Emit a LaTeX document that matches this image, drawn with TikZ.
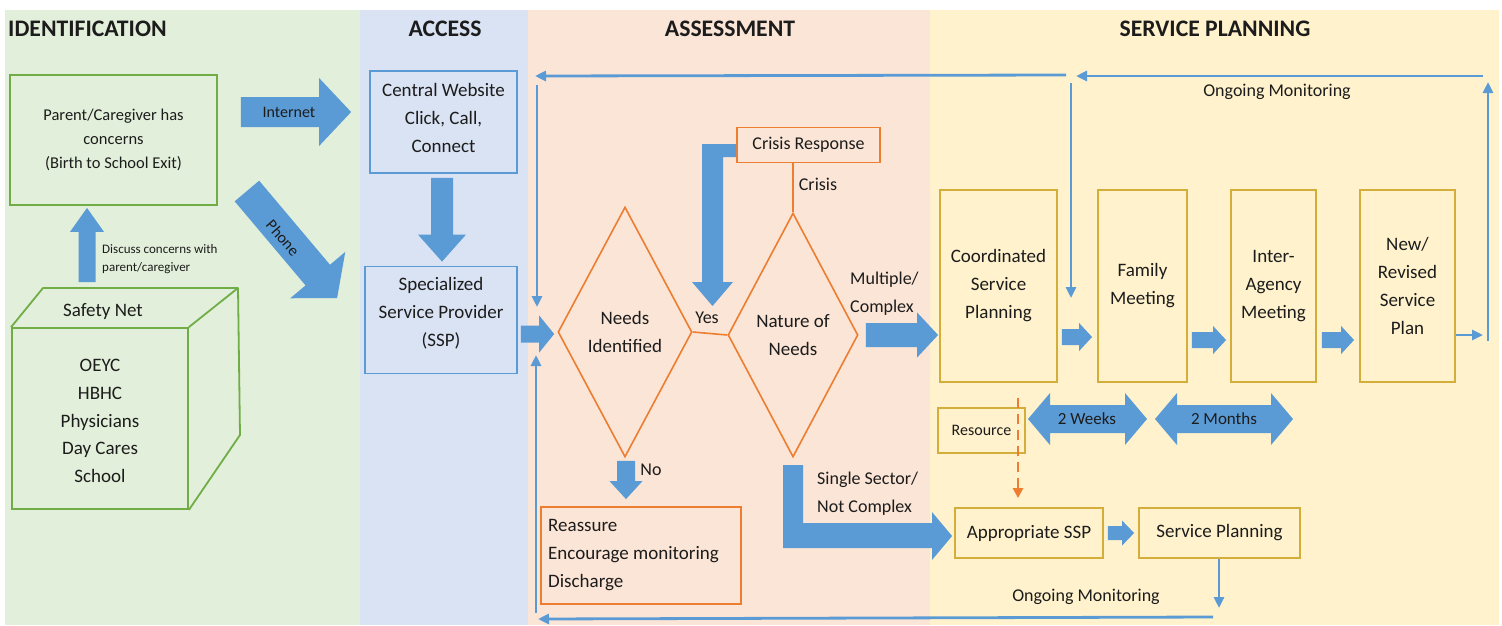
\documentclass[tikz,border=0pt]{standalone}
\usepackage{fontspec}
\setmainfont{Carlito}
\usetikzlibrary{shapes.geometric,arrows.meta,calc}
\definecolor{bgG}{HTML}{E2EFDA}
\definecolor{bgB}{HTML}{DAE3F3}
\definecolor{bgO}{HTML}{FBE5D6}
\definecolor{bgY}{HTML}{FFF2CC}
\definecolor{ab}{HTML}{5B9BD5}
\definecolor{gB}{HTML}{70AD47}
\definecolor{oB}{HTML}{ED7D31}
\definecolor{yB}{HTML}{D4AE3A}
\definecolor{bB}{HTML}{5B9BD5}
\definecolor{tx}{HTML}{1C1C1C}

\newcommand\blockarrow[5]{% from, to, shaft half, head half, head length
  \path (#1) coordinate (bas) (#2) coordinate (bae);
  \path ($(bae)!#5!(bas)$) coordinate (bab);
  \fill[ab] ($(bas)!#3!90:(bae)$) -- ($(bab)!#3!90:(bae)$) -- ($(bab)!#4!90:(bae)$) -- (bae)
    -- ($(bab)!#4!-90:(bae)$) -- ($(bab)!#3!-90:(bae)$) -- ($(bas)!#3!-90:(bae)$) -- cycle;
}
\newcommand\dblarrow[5]{% from, to, shaft half, head half, head length
  \path (#1) coordinate (bas) (#2) coordinate (bae);
  \path ($(bae)!#5!(bas)$) coordinate (bab) ($(bas)!#5!(bae)$) coordinate (baf);
  \fill[ab] (bas) -- ($(baf)!#4!90:(bae)$) -- ($(baf)!#3!90:(bae)$) -- ($(bab)!#3!90:(bae)$)
    -- ($(bab)!#4!90:(bae)$) -- (bae) -- ($(bab)!#4!-90:(bae)$) -- ($(bab)!#3!-90:(bae)$)
    -- ($(baf)!#3!-90:(bae)$) -- ($(baf)!#4!-90:(bae)$) -- cycle;
}

\begin{document}
\begin{tikzpicture}[x=1pt,y=-1pt,
  txt/.style={text=tx,align=center,inner sep=0pt,font=\fontsize{19}{28}\selectfont},
  lbl/.style={text=tx,align=left,inner sep=0pt,font=\fontsize{18}{28}\selectfont},
  head/.style={text=tx,inner sep=0pt,font=\bfseries\fontsize{23.7}{28}\selectfont},
  gbox/.style={draw=gB,line width=1.8pt,inner sep=0pt},
  bbox/.style={draw=bB,line width=1.8pt,inner sep=0pt},
  obox/.style={draw=oB,line width=1.8pt,inner sep=0pt},
  ybox/.style={draw=yB,line width=1.8pt,inner sep=0pt},
  odiam/.style={diamond,draw=oB,line width=1.6pt,inner sep=0pt,aspect=0.5},
  mon/.style={draw=ab,line width=2.8pt,-{Triangle[length=11pt,width=10pt]}},
]
\useasboundingbox (0,0) rectangle (1502,625);
\fill[white] (0,0) rectangle (1502,625);
% backgrounds
\fill[bgG] (5,10) rectangle (360,625);
\fill[bgB] (360,10) rectangle (528,625);
\fill[bgO] (528,10) rectangle (930,625);
\fill[bgY] (930,10) rectangle (1499,625);

% headers
\node[head,anchor=west] (hId) at (8,29) {IDENTIFICATION};
\node[head] (hAc) at (445,29) {ACCESS};
\node[head] (hAs) at (730,29) {ASSESSMENT};
\node[head] (hSp) at (1215,29) {SERVICE PLANNING};

% ---------- identification ----------
\node[gbox,minimum width=207pt,minimum height=130pt,txt,font=\fontsize{16.5}{24}\selectfont] (parent) at (113.5,140)
  {Parent/Caregiver has\\concerns\\(Birth to School Exit)};
\node[gbox,minimum width=176pt,minimum height=181pt] (safety) at (100,418.5) {};
\draw[gB,line width=1.8pt,line join=round] (safety.north west) -- (43,288) -- (238,288) -- (240,435) -- (safety.south east);
\draw[gB,line width=1.8pt] (safety.north east) -- (238,288);
\node[txt] (sntitle) at (103,312) {Safety Net};
\node[txt,font=\fontsize{19}{27.8}\selectfont] (snlist) at (100,421) {OEYC\\HBHC\\Physicians\\Day Cares\\School};

\blockarrow{$(safety.north)+(-13,-45)$}{$(parent.south)+(-26.5,2)$}{8.5pt}{17pt}{24pt}
\node[lbl,font=\fontsize{13}{18}\selectfont,anchor=west] (discuss) at (102,259) {Discuss concerns with\\parent/caregiver};

% ---------- access ----------
\node[bbox,minimum width=147pt,minimum height=102pt] (web) at (443.5,122) {};
\node[txt] (webt) at (443.5,118) {Central Website\\Click, Call,\\Connect};
\node[bbox,minimum width=152pt,minimum height=107pt] (ssp) at (441,320) {};
\node[txt] (sspt) at (441,313) {Specialized\\Service Provider\\(SSP)};

\blockarrow{$(parent.east)+(23,-28)$}{$(web.west)+(-18,-10)$}{15pt}{34pt}{32pt}
\node[txt,font=\fontsize{16}{20}\selectfont] (inet) at (289,112) {Internet};
\blockarrow{$(parent.east)+(29,51)$}{$(ssp.west)+(-27,-22)$}{16pt}{36pt}{30pt}
\node[txt,font=\fontsize{16}{20}\selectfont,rotate=-49] (phone) at (283,238) {Phone};
\blockarrow{$(web.south)+(-1.5,4)$}{$(ssp.north)+(1,-4)$}{11pt}{24pt}{27pt}

% ---------- assessment ----------
\node[odiam,minimum width=134pt,minimum height=250pt,txt] (needs) at (625,332) {Needs\\Identified};
\node[odiam,minimum width=130pt,minimum height=244pt,txt] (nature) at (793,335) {Nature of\\Needs};
\draw[oB,line width=1.6pt] (needs.east) -- (nature.west);
\node[lbl] (yes) at (707,318) {Yes};
\node[obox,minimum width=143pt,minimum height=35pt,txt,font=\fontsize{18}{22}\selectfont] (crisis) at (808.5,145) {Crisis Response};
\draw[oB,line width=1.6pt] (crisis.south -| nature.north) -- (nature.north);
\node[lbl] (crisislbl) at (818,184) {Crisis};
\node[obox,minimum width=200pt,minimum height=97pt] (reassure) at (641,555.5) {};
\node[txt,align=left,anchor=west] (reast) at (548,555) {Reassure\\Encourage monitoring\\Discharge};

\blockarrow{$(ssp.east)+(3,14)$}{$(needs.west)+(-3,2)$}{8.5pt}{18.5pt}{15pt}
\blockarrow{$(needs.south)+(1,3)$}{$(reassure.north)+(-15,-7)$}{9pt}{16.5pt}{18pt}
\node[lbl] (no) at (651,470) {No};
% crisis -> yes elbow arrow
\fill[ab] (crisis.west |- 0,144) -- (702,144) -- (702,282) -- (692,282) -- (712.5,306) -- (733,282) -- (723,282) -- (723,157) -- (crisis.west |- 0,157) -- cycle;

% ---------- service planning ----------
\node[ybox,minimum width=117pt,minimum height=192pt,txt] (csp) at (998.5,286) {Coordinated\\Service\\Planning};
\node[ybox,minimum width=89pt,minimum height=192pt,txt] (family) at (1142.5,286) {Family\\Meeting};
\node[ybox,minimum width=85pt,minimum height=192pt,txt] (inter) at (1273.5,286) {Inter-\\Agency\\Meeting};
\node[ybox,minimum width=95pt,minimum height=192pt,txt] (newplan) at (1407.5,286) {New/\\Revised\\Service\\Plan};
\node[ybox,minimum width=87pt,minimum height=45pt,txt,font=\fontsize{16}{20}\selectfont] (resource) at (981.5,430.5) {Resource};
\node[ybox,minimum width=148pt,minimum height=50pt,txt] (appssp) at (1029,533) {Appropriate SSP};
\node[ybox,minimum width=161pt,minimum height=50pt,txt] (splan) at (1219.5,533) {Service Planning};

\blockarrow{$(nature.east)+(7,0)$}{$(csp.west)+(-1,49)$}{12pt}{22.5pt}{21pt}
\node[lbl,anchor=west] (multi) at (850,294) {Multiple/\\Complex};
% single sector elbow arrow
\fill[ab] (783,465) -- (803,465) -- (803,523) -- (932,523) -- (932,512) -- ($(appssp.west)+(-2,3)$) -- (932,560) -- (932,548) -- (783,548) -- cycle;
\node[lbl,anchor=west] (single) at (817,494) {Single Sector/\\Not Complex};

\blockarrow{$(csp.east)+(4,51)$}{$(family.west)+(-5,51)$}{8pt}{14pt}{13pt}
\blockarrow{$(family.east)+(4,54)$}{$(inter.west)+(-4,54)$}{8pt}{14pt}{13pt}
\blockarrow{$(inter.east)+(5,54)$}{$(newplan.west)+(-5,54)$}{8pt}{14pt}{13pt}
\blockarrow{$(appssp.east)+(4,0)$}{$(splan.west)+(-4,0)$}{7pt}{12.5pt}{12pt}

\dblarrow{1028,419}{1147,419}{14pt}{26pt}{22pt}
\node[txt,font=\fontsize{17}{20}\selectfont] (weeks) at (1087,419) {2 Weeks};
\dblarrow{1155,419}{1293,419}{14pt}{26pt}{22pt}
\node[txt,font=\fontsize{17}{20}\selectfont] (months) at (1224,419) {2 Months};

\draw[oB,line width=2.5pt,dash pattern=on 10pt off 6pt,-{Triangle[length=10pt,width=10pt]}]
  ($(csp.south)+(19.5,15)$) -- ($(appssp.north)+(-11,-9)$);

% ---------- monitoring loops ----------
\coordinate (t1) at (1483,335);
\coordinate (t2) at (1488,341);
\coordinate (t3) at (1488,82);
\coordinate (t4) at (1483,76);
\coordinate (t5) at (1076,76);
\coordinate (t6) at (1071,83);
\coordinate (t7) at (1071,298);
\coordinate (t8) at (1066,75);
\coordinate (t9) at (535,76);
\coordinate (t10) at (537,85);
\coordinate (t11) at (537,307);
\draw[mon] ($(newplan.east)+(0,49)$) -- (t1);
\draw[mon] (t2) -- (t3);
\draw[mon] (t4) -- (t5);
\draw[mon] (t6) -- (t7);
\draw[mon] (t8) -- (t9);
\draw[mon] (t10) -- (t11);
\node[lbl] (om1) at (1277,92) {Ongoing Monitoring};

\coordinate (b1) at (1219,608);
\coordinate (b2) at (1213,617);
\coordinate (b3) at (538,619);
\coordinate (b4) at (536,613);
\coordinate (b5) at (536,355);
\draw[mon] (splan.south -| b1) -- (b1);
\draw[mon] (b2) -- (b3);
\draw[mon] (b4) -- (b5);
\node[lbl] (om2) at (1086,597) {Ongoing Monitoring};
\end{tikzpicture}
\end{document}
